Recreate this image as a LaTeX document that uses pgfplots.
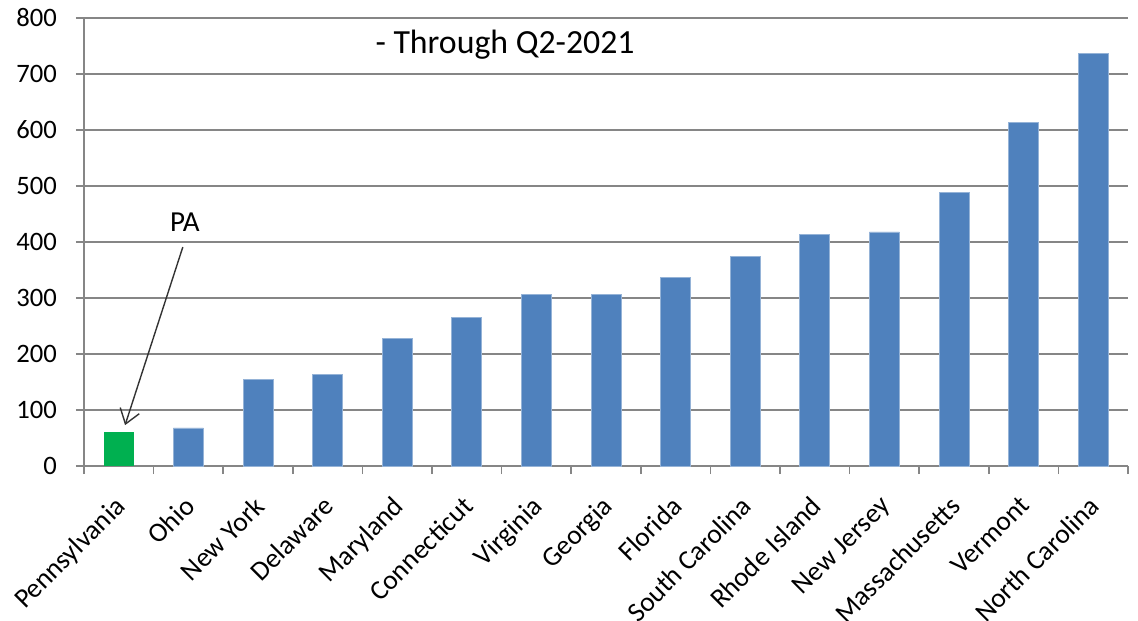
\documentclass[border=0pt]{standalone}
\usepackage{fontspec}
\setmainfont{Carlito}
\usepackage{pgfplots}
\pgfplotsset{compat=1.18}
\usetikzlibrary{arrows.meta}

\definecolor{barblue}{HTML}{4F81BD}
\definecolor{bargreen}{HTML}{00B050}
\definecolor{gridgray}{HTML}{868686}

\pgfplotstableread{
x  y
0  61
}\pa
\pgfplotstableread{
x  y
1  68
2  154
3  163
4  228
5  266
6  306
7  306
8  337
9  374
10 414
11 418
12 489
13 614
14 737
}\others

\begin{document}
\begin{tikzpicture}
\useasboundingbox (-42pt,-77pt) rectangle (527pt,233pt);
\begin{axis}[
    scale only axis,
    width=522pt, height=224pt,
    xmin=-0.5, xmax=14.5,
    ymin=0, ymax=800,
    ytick={0,100,...,800},
    xtick={-0.5,0.5,...,14.5},
    xticklabels={},
    extra x ticks={0,1,...,14},
    extra x tick labels={Pennsylvania,Ohio,New York,Delaware,Maryland,Connecticut,Virginia,Georgia,Florida,South Carolina,Rhode Island,New Jersey,Massachusetts,Vermont,North Carolina},
    extra x tick style={major tick length=0pt, grid=none,
        tick label style={rotate=45, anchor=north east, xshift=-8.6pt, yshift=-4.7pt, font=\fontsize{13.7}{15}\selectfont}},
    ymajorgrids,
    grid style={gridgray, line width=0.8pt},
    axis line style={gridgray, line width=0.8pt},
    tick style={gridgray, line width=0.8pt},
    tick align=outside,
    major tick length=4pt,
    axis x line*=bottom,
    axis y line*=left,
    y tick label style={font=\fontsize{13.3}{15}\selectfont, xshift=-6pt},
    /pgf/number format/assume math mode=true,
    ybar, bar width=15pt, bar shift=0pt,
    clip=false,
]
\addplot[fill=bargreen, draw=none] table[x=x, y=y] {\pa};
\addplot[fill=barblue, draw=barblue!60!white, line width=0.4pt] table[x=x, y=y] {\others};
\node[font=\fontsize{16.9}{19}\selectfont] at (axis cs:5.55,752) {- Through Q2-2021};
\node[font=\fontsize{14.5}{17}\selectfont] at (axis cs:0.95,436) {PA};
\draw[-{Straight Barb[length=7pt,width=10pt]}, line width=0.7pt, black!80] (axis cs:0.92,391) -- (axis cs:0.09,73);
\end{axis}
\end{tikzpicture}
\end{document}
